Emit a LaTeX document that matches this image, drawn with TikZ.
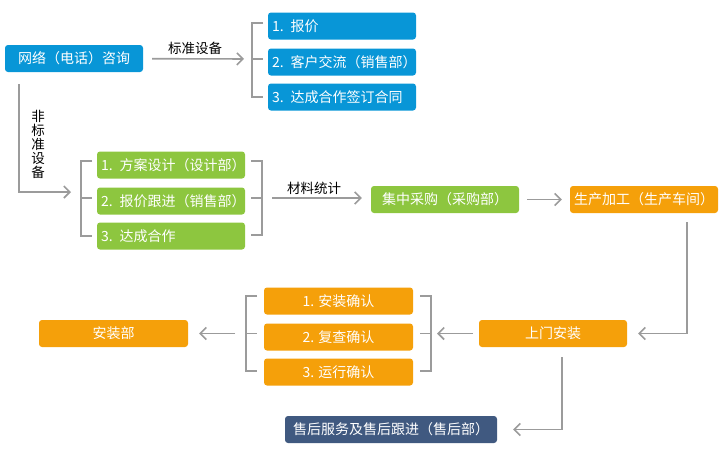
\documentclass[tikz,border=0pt]{standalone}
\usepackage{fontspec}
\newfontfamily\cjk{Noto Sans CJK SC}
\usetikzlibrary{arrows.meta}
\definecolor{ablue}{RGB}{8,150,215}
\definecolor{agreen}{RGB}{141,198,63}
\definecolor{aorange}{RGB}{245,160,10}
\definecolor{anavy}{RGB}{64,89,128}
\definecolor{aline}{RGB}{155,155,155}
\tikzset{
  box/.style={rectangle,rounded corners=3pt,text=white,minimum height=27pt,inner sep=0pt,font=\cjk\fontsize{14}{16}\selectfont},
  lab/.style={inner sep=0pt,font=\cjk\fontsize{13.5}{14}\selectfont},
  line/.style={draw=aline,line width=1.6pt},
  arr/.style={line,-{Straight Barb[length=6pt,width=12pt]}}
}
\newcommand{\lbox}[5]{\node[box,fill=#5,text width=140pt,inner xsep=4pt,align=left] (#1) at (#2,#3) {\mbox{#4}};}
\newcommand{\cbox}[6]{\node[box,fill=#6,minimum width=#4pt] (#1) at (#2,#3) {#5};}
\newcommand{\brackR}[5]{\coordinate (#1) at (#2,#5); \draw[line] (#2+11,#3) -| (#2,#4) -- (#2+11,#4); \draw[line] (#1) -- (#2+11,#5);}
\newcommand{\brackL}[5]{\coordinate (#1) at (#2,#5); \draw[line] (#2-11,#3) -| (#2,#4) -- (#2-11,#4); \draw[line] (#1) -- (#2-11,#5);}
\begin{document}
\begin{tikzpicture}[x=1pt,y=-1pt]
    \useasboundingbox (0,0) rectangle (725,456);
    % consultation and standard equipment
    \cbox{ask}{74}{58.5}{138}{网络（电话）咨询}{ablue}
    \lbox{quote}{342}{26}{1. 报价}{ablue}
    \lbox{talk}{342}{62}{2. 客户交流（销售部）}{ablue}
    \lbox{sign}{342}{97}{3. 达成合作签订合同}{ablue}
    \brackR{stdin}{252}{23}{97}{59}
    \draw[arr,shorten <=9pt,shorten >=8pt] (ask) -- (stdin);
    \node[lab] (std) at (195,48) {标准设备};
    % non-standard equipment
    \lbox{design}{171}{165}{1. 方案设计（设计部）}{agreen}
    \lbox{follow}{171}{201}{2. 报价跟进（销售部）}{agreen}
    \lbox{deal}{171}{236}{3. 达成合作}{agreen}
    \brackR{gleft}{81}{161}{236}{198}
    \brackL{gright}{262}{161}{235}{198}
    \coordinate (gin) at (81,192);
    \draw[arr,shorten >=10pt] ([xshift=14pt,yshift=-12pt]ask.south west) |- (gin);
    \node[lab,align=center] (nonstd) at (38,144) {非\\标\\准\\设\\备};
    % purchase and production
    \cbox{buy}{445}{199.5}{148}{集中采购（采购部）}{agreen}
    \cbox{make}{644}{199.5}{148}{生产加工（生产车间）}{aorange}
    \draw[arr,shorten <=10pt,shorten >=9pt] (gright) -- (gright -| buy.west);
    \node[lab] (mat) at (314,188) {材料统计};
    \draw[arr,shorten <=8pt,shorten >=8pt] (buy) -- (make);
    % installation
    \cbox{visit}{553}{333.5}{148}{上门安装}{aorange}
    \cbox{check1}{338.5}{301}{149}{1. 安装确认}{aorange}
    \cbox{check2}{338.5}{337}{149}{2. 复查确认}{aorange}
    \cbox{check3}{338.5}{372}{149}{3. 运行确认}{aorange}
    \cbox{dept}{113.5}{333.5}{149}{安装部}{aorange}
    \brackL{oright}{431}{296}{371}{333.5}
    \brackR{oleft}{246}{296}{371}{333.5}
    \draw[arr,shorten >=11pt] ([xshift=-31pt,yshift=-9pt]make.south east) |- (visit.east);
    \draw[arr,shorten <=6pt,shorten >=6pt] (visit) -- (oright);
    \draw[arr,shorten <=11pt,shorten >=11pt] (oleft) -- (dept);
    % after-sales
    \cbox{after}{391}{429.5}{212}{售后服务及售后跟进（售后部）}{anavy}
    \draw[arr,shorten >=16pt] ([xshift=9pt,yshift=-10pt]visit.south) |- (after.east);
\end{tikzpicture}
\end{document}
